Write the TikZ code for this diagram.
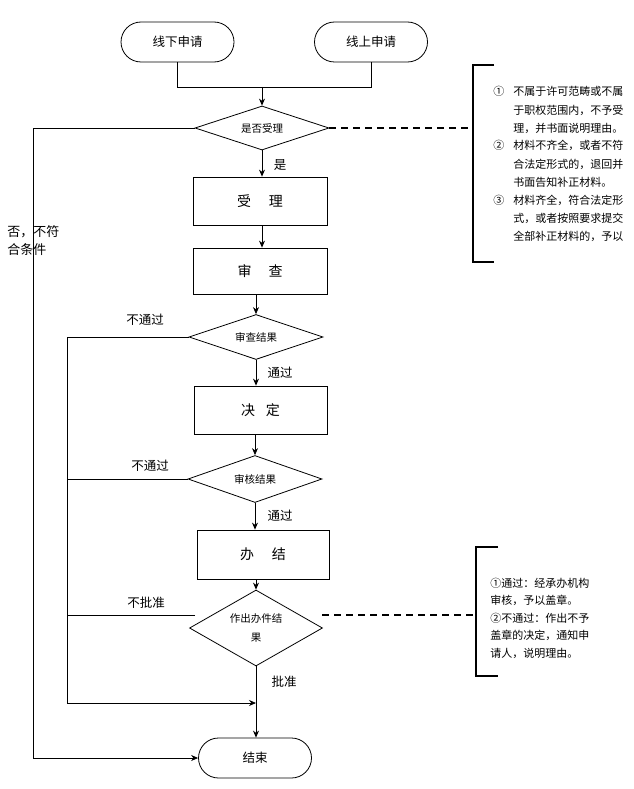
\documentclass[tikz,border=0pt]{standalone}
\usepackage{fontspec}
\setmainfont{Noto Sans CJK SC}
\usetikzlibrary{shapes.geometric,shapes.misc,arrows.meta}
\begin{document}
\begin{tikzpicture}[x=1pt,y=-1pt,line width=0.8pt,
  term/.style={draw,rounded rectangle,minimum width=113pt,minimum height=40pt,inner sep=0pt,font=\fontsize{12.5}{15}\selectfont},
  box/.style={draw,rectangle,minimum width=134pt,minimum height=48pt,inner sep=0pt,font=\fontsize{14}{16}\selectfont},
  dia/.style={draw,diamond,minimum width=134pt,minimum height=45pt,inner sep=0pt,aspect=3,font=\fontsize{10.5}{19}\selectfont},
  lbl/.style={inner sep=0pt,font=\fontsize{12.5}{18}\selectfont},
  arr/.style={-{Stealth[length=7pt,width=6pt]}},
  brk/.style={line width=1.6pt},
  dsh/.style={line width=1.4pt,dash pattern=on 7pt off 5pt},
  note/.style={anchor=north west,inner sep=0pt,font=\fontsize{11}{18}\selectfont}]
\useasboundingbox (0,0) rectangle (633,789);

% nodes
\node[term] (off) at (177.5,42) {线下申请};
\node[term] (on) at (371,42) {线上申请};
\coordinate (j) at (262,87);
\node[dia,minimum height=44pt] (d1) at (262,128) {是否受理};
\node[box] (b1) at (260,201) {受\hspace{18pt}理};
\node[box,minimum height=46pt] (b2) at (260,271) {审\hspace{17pt}查};
\node[dia] (d2) at (256,337) {审查结果};
\node[box,minimum width=133pt] (b3) at (260.5,410) {决\hspace{11pt}定};
\node[dia,minimum height=47pt] (d3) at (255,479) {审核结果};
\node[box,minimum width=132pt,minimum height=49pt] (b4) at (263,554.5) {办\hspace{18pt}结};
\node[dia,minimum width=133pt,minimum height=76pt,aspect=1.75,align=center] (d4) at (256,628) {作出办件结\\果};
\node[term] (end) at (255,758) {结束};

% connectors
\draw (off.south) -- (off.south |- j) -- (on.south |- j) -- (on.south);
\draw[arr] (j) -- (d1.north);
\draw[arr] (d1.south) -- (d1.south |- b1.north);
\draw[arr] (b1.south -| d1.south) -- (d1.south |- b2.north);
\draw[arr] (b2.south -| d2.north) -- (d2.north);
\draw[arr] (d2.south) -- (d2.south |- b3.north);
\draw[arr] (b3.south -| d3.north) -- (d3.north);
\draw[arr] (d3.south) -- (d3.south |- b4.north);
\draw[arr] (b4.south -| d4.north) -- (d4.north);
\draw[arr] (d4.south) -- (d4.south |- end.north);

\coordinate (L1) at (67,703);
\coordinate (nb) at (195,615);
\draw (d2.west) -| (L1);
\draw (d3.west) -- (d3.west -| L1);
\draw (nb) -- (nb -| L1);
\draw[arr] (L1) -- (L1 -| d4.south);

\coordinate (L0) at (33,758);
\draw[arr] (d1.west) -| (L0) -- (end.west);

% labels
\node[lbl] (ls) at (280,165) {是};
\node[lbl] (l1) at (145,320) {不通过};
\node[lbl] (l2) at (280,373) {通过};
\node[lbl] (l3) at (150,466) {不通过};
\node[lbl] (l4) at (280,516) {通过};
\node[lbl] (l5) at (146,603) {不批准};
\node[lbl] (l6) at (284,682) {批准};
\node[lbl,anchor=west,align=left,font=\fontsize{13}{18}\selectfont] (lno) at (7,241) {否，不符\\合条件};

% bracket 1
\coordinate (br1) at (470,128);
\draw[dsh] (d1.east) -- (br1);
\draw[brk] (494,65) -- (473,65) -- (473,262) -- (494,262);
\node[note] (n1) at (493,83) {\begin{tabular}{@{}l@{\hspace{9pt}}l@{}}
①&不属于许可范畴或不属\\
 &于职权范围内，不予受\\
 &理，并书面说明理由。\\
②&材料不齐全，或者不符\\
 &合法定形式的，退回并\\
 &书面告知补正材料。\\
③&材料齐全，符合法定形\\
 &式，或者按照要求提交\\
 &全部补正材料的，予以
\end{tabular}};

% bracket 2
\coordinate (nr) at (322,615);
\coordinate (br2) at (473,615);
\draw[dsh] (nr) -- (br2);
\draw[brk] (498,547) -- (476,547) -- (476,676) -- (498,676);
\node[note,font=\fontsize{11}{17.5}\selectfont] (n2) at (490,574.5) {\begin{tabular}{@{}l@{}}
①通过：经承办机构\\
审核，予以盖章。\\
②不通过：作出不予\\
盖章的决定，通知申\\
请人，说明理由。
\end{tabular}};
\end{tikzpicture}
\end{document}
